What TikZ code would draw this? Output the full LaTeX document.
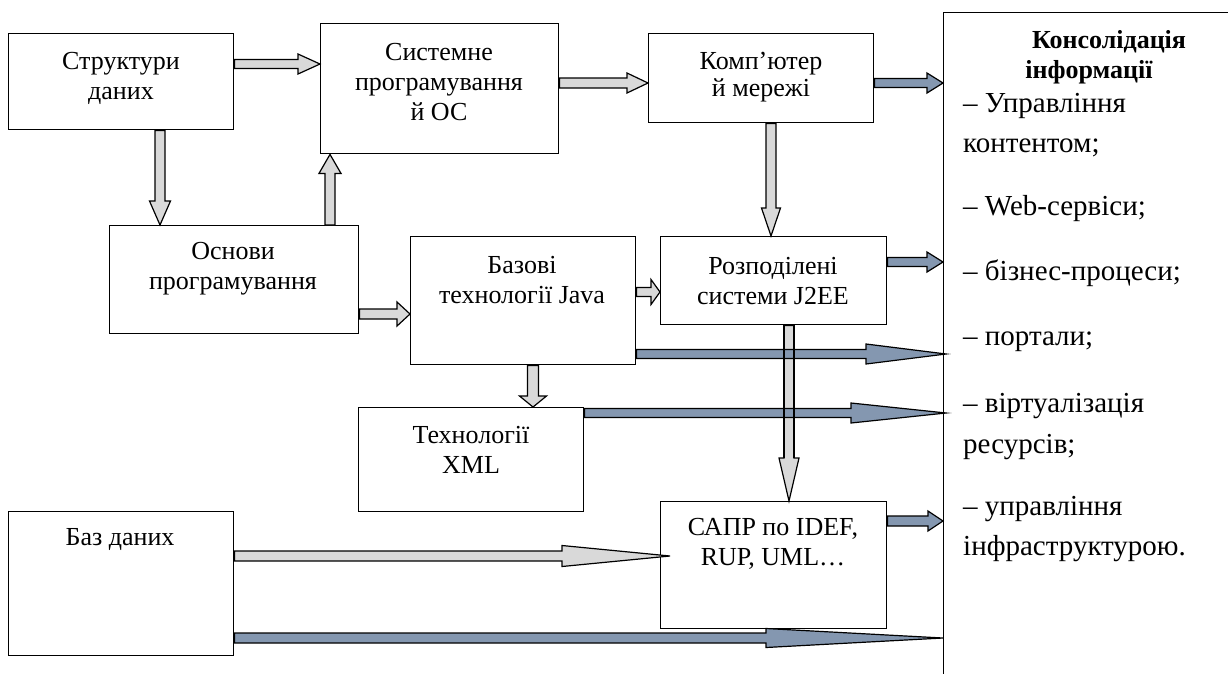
\documentclass[tikz,border=0pt]{standalone}
\usepackage{fontspec}
\setmainfont{Liberation Serif}
\usetikzlibrary{calc}
\definecolor{grayfill}{HTML}{D9D9D9}
\definecolor{bluefill}{HTML}{8497B0}
\tikzset{
  box/.style={draw, line width=1.4pt, inner sep=0pt, anchor=north west},
  btext/.style={font=\fontsize{26}{30}\selectfont, align=center, inner sep=0pt},
  ltext/.style={font=\fontsize{29}{34}\selectfont, anchor=base west, inner sep=0pt},
  ttext/.style={font=\fontsize{26}{30}\selectfont\bfseries, anchor=base, inner sep=0pt},
  garrow/.style={draw=black, line width=1.2pt, fill=grayfill},
  barrow/.style={draw=black, line width=1.2pt, fill=bluefill},
  outline/.style={draw=black, line width=1.2pt},
}
% #1 style, #2 start, #3 end, #4 shaft half width, #5 head half width, #6 head length
\newcommand\blockarrow[6]{%
  \coordinate (baS) at (#2);
  \coordinate (baE) at (#3);
  \path ($(baE)!#6!(baS)$) coordinate (baH);
  \draw[#1] ($(baS)!#4!90:(baE)$) -- ($(baH)!#4!90:(baE)$) -- ($(baH)!#5!90:(baE)$)
    -- (baE) -- ($(baH)!#5!-90:(baE)$) -- ($(baH)!#4!-90:(baE)$)
    -- ($(baS)!#4!-90:(baE)$) -- cycle;
}
\begin{document}
\begin{tikzpicture}[x=1pt,y=-1pt]
\clip (0,0) rectangle (1228,673);
\fill[white] (0,0) rectangle (1228,673);

% boxes
\node[box, minimum width=225pt, minimum height=96pt]  (sd)   at (8,33)   {};
\node[box, minimum width=238pt, minimum height=130pt] (sys)  at (320,23) {};
\node[box, minimum width=225pt, minimum height=89pt]  (net)  at (648,33) {};
\node[box, minimum width=249pt, minimum height=108pt] (osn)  at (109,225) {};
\node[box, minimum width=225pt, minimum height=128pt] (java) at (410,236) {};
\node[box, minimum width=226pt, minimum height=88pt]  (j2ee) at (660,236) {};
\node[box, minimum width=225pt, minimum height=104pt] (xml)  at (358,407) {};
\node[box, minimum width=225pt, minimum height=144pt] (db)   at (8,511)  {};
\node[box, minimum width=226pt, minimum height=127pt] (sapr) at (660,501) {};
\node[box, minimum width=320pt, minimum height=700pt] (cons) at (943,12) {};

% box texts
\node[btext] (tsd)   at (121,78)  {Структури\\даних};
\node[btext] (tsys)  at (439,82)  {Системне\\програмування\\й ОС};
\node[btext, font=\fontsize{26}{27}\selectfont] (tnet) at (761,77) {Комп’ютер\\й мережі};
\node[btext] (tosn)  at (233,269) {Основи\\програмування};
\node[btext] (tjava) at (522,280) {Базові\\технології Java};
\node[btext] (tj2ee) at (773,281) {Розподілені\\системи J2EE};
\node[btext] (txml)  at (471,450) {Технології\\XML};
\node[btext] (tdb)   at (120,539) {Баз даних};
\node[btext] (tsapr) at (773,544) {САПР по IDEF,\\RUP, UML…};

% consolidation texts
\node[ttext] (c1) at (1109,48) {Консолідація};
\node[ttext] (c2) at (1089,78) {інформації};
\node[ltext] (l1) at (963,112) {– Управління};
\node[ltext] (l2) at (963,152) {контентом;};
\node[ltext] (l3) at (963,215) {– Web-сервіси;};
\node[ltext] (l4) at (963,280) {– бізнес-процеси;};
\node[ltext] (l5) at (963,345) {– портали;};
\node[ltext] (l6) at (963,412) {– віртуалізація};
\node[ltext] (l7) at (963,453) {ресурсів;};
\node[ltext] (l8) at (963,515) {– управління};
\node[ltext] (l9) at (963,555) {інфраструктурою.};

% gray arrows
\blockarrow{garrow}{sd.east |- 0,64}{sys.west |- 0,64}{4.5pt}{10pt}{22pt}
\blockarrow{garrow}{sd.south -| 160,0}{osn.north -| 160,0}{5pt}{10.5pt}{24pt}
\blockarrow{garrow}{osn.north -| 330,0}{sys.south -| 330,0}{5pt}{11pt}{19pt}
\blockarrow{garrow}{sys.east |- 0,83}{net.west |- 0,83}{5pt}{10pt}{21pt}
\blockarrow{garrow}{net.south -| 771,0}{j2ee.north -| 771,0}{5pt}{9.5pt}{28pt}
\blockarrow{garrow}{osn.east |- 0,314}{java.west |- 0,314}{5pt}{12pt}{13pt}
\blockarrow{garrow}{java.east |- 0,292}{j2ee.west |- 0,292}{4.5pt}{12.5pt}{9pt}
\blockarrow{garrow}{java.south -| 533,0}{xml.north -| 533,0}{5.5pt}{13.5pt}{11pt}
\blockarrow{garrow}{j2ee.south -| 789,0}{sapr.north -| 789,0}{5pt}{10pt}{43pt}
\blockarrow{garrow}{db.east |- 0,556}{$(sapr.west |- 0,556)+(10,0)$}{5pt}{10.5pt}{108pt}

% blue arrows
\blockarrow{barrow}{net.east |- 0,83}{cons.west |- 0,83}{4.5pt}{10pt}{16pt}
\blockarrow{barrow}{j2ee.east |- 0,262}{cons.west |- 0,262}{4.5pt}{10pt}{16pt}
\blockarrow{barrow}{java.east |- 0,354}{$(cons.west |- 0,354)+(3,0)$}{4.5pt}{10pt}{80pt}
\blockarrow{barrow}{xml.east |- 0,413}{$(cons.west |- 0,413)+(3,0)$}{4.5pt}{10pt}{95pt}
\blockarrow{barrow}{sapr.east |- 0,521}{cons.west |- 0,521}{5pt}{10pt}{15pt}
\blockarrow{barrow}{db.east |- 0,638}{cons.west |- 0,638}{5pt}{9.5pt}{177pt}

% shaft outline of the J2EE->CAPR arrow over the crossing blue arrows
\draw[outline] ($(j2ee.south -| 789,0)+(-5,0)$) -- ($(sapr.north -| 789,0)+(-5,-43)$);
\draw[outline] ($(j2ee.south -| 789,0)+(5,0)$) -- ($(sapr.north -| 789,0)+(5,-43)$);
\end{tikzpicture}
\end{document}
